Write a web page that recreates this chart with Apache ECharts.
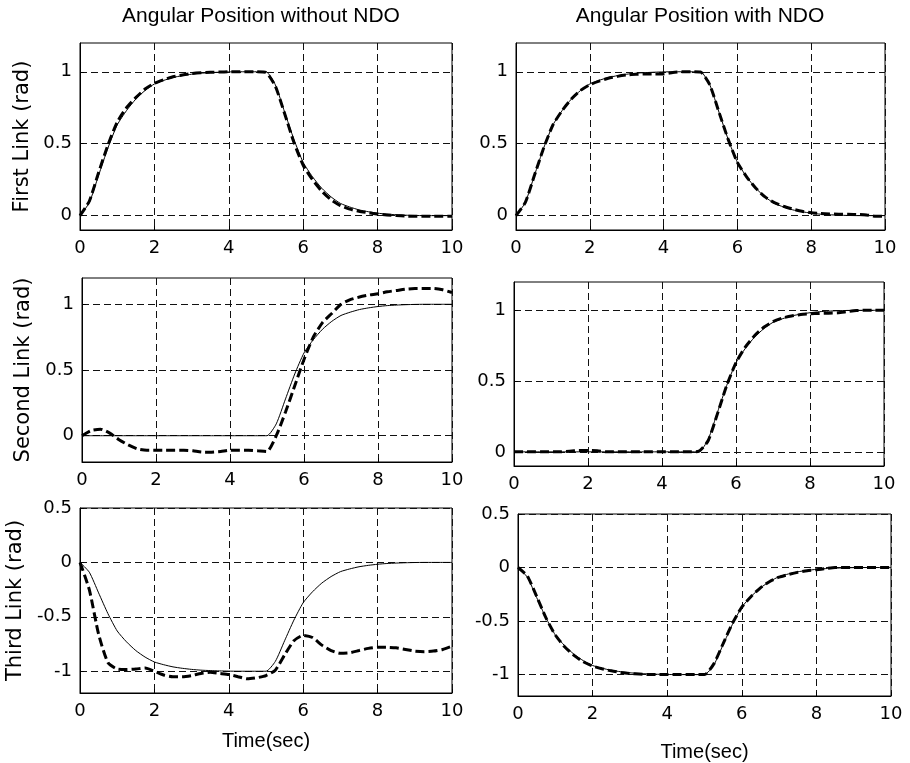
<!DOCTYPE html>
<html>
<head>
<meta charset="utf-8">
<script src="https://cdn.jsdelivr.net/npm/echarts@6/dist/echarts.min.js"></script>
<style>
  html, body { margin: 0; padding: 0; background: #fff; }
  #chart { width: 910px; height: 763px; }
</style>
</head>
<body>
<div id="chart"></div>
<script>
// sample times (sec)
const time = [0,0.25,0.5,0.75,1,1.25,1.5,1.75,2,2.25,2.5,2.75,3,3.25,3.5,3.75,4,4.25,4.5,4.75,5,
  5.25,5.5,5.75,6,6.25,6.5,6.75,7,7.25,7.5,7.75,8,8.25,8.5,8.75,9,9.25,9.5,9.75,10];

// desired trajectories (thin solid)
const link1Ref = [0,0.09,0.28,0.47,0.63,0.73,0.81,0.87,0.915,0.94,0.96,0.973,0.983,0.99,0.994,0.997,0.999,1,1,1,1,
  0.91,0.72,0.53,0.37,0.27,0.19,0.13,0.085,0.06,0.04,0.027,0.017,0.01,0.006,0.003,0.001,0,0,0,0];
const link2Ref = [0,0,0,0,0,0,0,0,0,0,0,0,0,0,0,0,0,0,0,0,0,
  0.09,0.28,0.47,0.63,0.73,0.81,0.87,0.915,0.94,0.96,0.973,0.983,0.99,0.994,0.997,0.999,1,1,1,1];
const link3Ref = [0,-0.09,-0.28,-0.47,-0.63,-0.73,-0.81,-0.87,-0.915,-0.94,-0.96,-0.973,-0.983,-0.99,-0.994,-0.997,-0.999,-1,-1,-1,-1,
  -0.91,-0.72,-0.53,-0.37,-0.27,-0.19,-0.13,-0.085,-0.06,-0.04,-0.027,-0.017,-0.01,-0.006,-0.003,-0.001,0,0,0,0];

// actual response without NDO (thick dashed)
const link1NoNdo = [0,0.1,0.3,0.49,0.65,0.75,0.82,0.88,0.92,0.945,0.965,0.978,0.988,0.993,0.996,0.998,1,1,1,1,0.995,
  0.9,0.71,0.51,0.35,0.25,0.17,0.11,0.07,0.045,0.03,0.02,0.01,0.005,0,-0.003,-0.005,-0.005,-0.005,-0.005,-0.005];
const link2NoNdo = [0,0.04,0.05,0.02,-0.03,-0.07,-0.1,-0.11,-0.11,-0.11,-0.11,-0.11,-0.115,-0.125,-0.125,-0.12,-0.11,-0.11,-0.11,-0.115,-0.12,
  0,0.18,0.38,0.58,0.75,0.86,0.93,1,1.035,1.055,1.07,1.08,1.095,1.105,1.115,1.12,1.12,1.12,1.11,1.09];
const link3NoNdo = [0,-0.25,-0.66,-0.92,-0.98,-0.985,-0.98,-0.97,-1,-1.035,-1.05,-1.05,-1.04,-1.02,-1.01,-1.02,-1.03,-1.05,-1.07,-1.06,-1.04,
  -0.99,-0.85,-0.72,-0.67,-0.69,-0.76,-0.81,-0.835,-0.83,-0.81,-0.79,-0.78,-0.78,-0.785,-0.8,-0.815,-0.82,-0.815,-0.8,-0.77];

// actual response with NDO (thick dashed)
const link1Ndo = [0,0.09,0.28,0.47,0.63,0.73,0.81,0.87,0.91,0.935,0.955,0.968,0.978,0.982,0.985,0.985,0.985,0.995,1,1,0.998,
  0.91,0.72,0.53,0.37,0.27,0.19,0.13,0.09,0.065,0.045,0.03,0.02,0.015,0.012,0.01,0.01,0.008,0.005,-0.005,-0.005];
const link2Ndo = [0,0,0,0,0,0,0.005,0.01,0.01,0.008,0,0,0,0,0,0,0,0,0,0,0.005,
  0.08,0.27,0.47,0.63,0.74,0.82,0.88,0.92,0.945,0.96,0.97,0.975,0.978,0.98,0.982,0.99,0.998,1,1,1];
const link3Ndo = [0,-0.08,-0.27,-0.47,-0.63,-0.74,-0.82,-0.88,-0.92,-0.945,-0.965,-0.98,-0.99,-0.995,-1,-1,-1,-1,-1,-1,-1,
  -0.9,-0.71,-0.52,-0.37,-0.27,-0.19,-0.13,-0.09,-0.065,-0.045,-0.03,-0.02,-0.01,0,0,0,0,0,0,0];

const xTicks = [0, 2, 4, 6, 8, 10];
const yTicksUpper = [0, 0.5, 1];
const yTicksLower = [-1, -0.5, 0, 0.5];
const titles = ['Angular Position without NDO', 'Angular Position with NDO'];
const yNames = ['First Link (rad)', 'Second Link (rad)', 'Third Link (rad)'];

const FONT = '"Liberation Sans", Arial, Helvetica, sans-serif';
const TICKFONT = '"DejaVu Sans", "Liberation Sans", Arial, sans-serif';

const panels = [
  {box: {left: 80, top: 43, width: 372, height: 187}, min: -0.1, max: 1.2, ticks: yTicksUpper, ref: link1Ref, act: link1NoNdo, yName: yNames[0], yGap: 47},
  {box: {left: 516, top: 43, width: 369, height: 187}, min: -0.1, max: 1.2, ticks: yTicksUpper, ref: link1Ref, act: link1Ndo},
  {box: {left: 82, top: 278, width: 370, height: 184}, min: -0.2, max: 1.2, ticks: yTicksUpper, ref: link2Ref, act: link2NoNdo, yName: yNames[1], yGap: 48},
  {box: {left: 514, top: 282, width: 370, height: 184}, min: -0.1, max: 1.2, ticks: yTicksUpper, ref: link2Ref, act: link2Ndo},
  {box: {left: 80, top: 508, width: 372, height: 185}, min: -1.2, max: 0.5, ticks: yTicksLower, ref: link3Ref, act: link3NoNdo, yName: yNames[2], yGap: 54, xName: 'Time(sec)', xGap: 38},
  {box: {left: 518, top: 514, width: 373, height: 185}, min: -1.2, max: 0.5, ticks: yTicksLower, ref: link3Ref, act: link3Ndo, xName: 'Time(sec)', xGap: 46}
];

const gridLine = {show: true, lineStyle: {color: '#111', type: [7, 4], width: 1}};
const label = {color: '#000', fontSize: 18, fontFamily: TICKFONT};

const grid = [], xAxis = [], yAxis = [], series = [];
panels.forEach((p, i) => {
  grid.push(Object.assign({show: true, borderColor: '#000', borderWidth: 1, backgroundColor: '#fff'}, p.box));
  xAxis.push({
    type: 'value', gridIndex: i, min: 0, max: 10,
    axisLine: {show: true, onZero: false, lineStyle: {color: '#000'}},
    axisTick: {show: true, inside: true, length: 4, customValues: xTicks, lineStyle: {color: '#000'}},
    axisLabel: Object.assign({margin: 9, customValues: xTicks}, label),
    splitLine: gridLine,
    name: p.xName || '', nameLocation: 'middle', nameGap: p.xGap || 0,
    nameTextStyle: {color: '#000', fontSize: 20, fontFamily: FONT}
  });
  yAxis.push({
    type: 'value', gridIndex: i, min: p.min, max: p.max,
    axisLine: {show: true, onZero: false, lineStyle: {color: '#000'}},
    axisTick: {show: true, inside: true, length: 4, customValues: p.ticks, lineStyle: {color: '#000'}},
    axisLabel: Object.assign({margin: 8, customValues: p.ticks}, label),
    splitLine: gridLine,
    name: p.yName || '', nameLocation: 'middle', nameGap: p.yGap || 0,
    nameTextStyle: {color: '#000', fontSize: 21, fontFamily: TICKFONT}
  });
  series.push({
    type: 'line', xAxisIndex: i, yAxisIndex: i, showSymbol: false, smooth: 0.2, silent: true,
    lineStyle: {color: '#000', width: 1},
    data: time.map((t, k) => [t, p.ref[k]])
  });
  series.push({
    type: 'line', xAxisIndex: i, yAxisIndex: i, showSymbol: false, smooth: 0.2, silent: true,
    lineStyle: {color: '#000', width: 3, type: [9, 4]},
    data: time.map((t, k) => [t, p.act[k]])
  });
});

const chart = echarts.init(document.getElementById('chart'));
chart.setOption({
  animation: false,
  backgroundColor: '#fff',
  graphic: [
    {type: 'text', x: 261, y: 6, style: {text: titles[0], font: '21px ' + FONT, fill: '#000', textAlign: 'center'}},
    {type: 'text', x: 700, y: 6, style: {text: titles[1], font: '21px ' + FONT, fill: '#000', textAlign: 'center'}}
  ],
  grid, xAxis, yAxis, series
});
</script>
</body>
</html>
